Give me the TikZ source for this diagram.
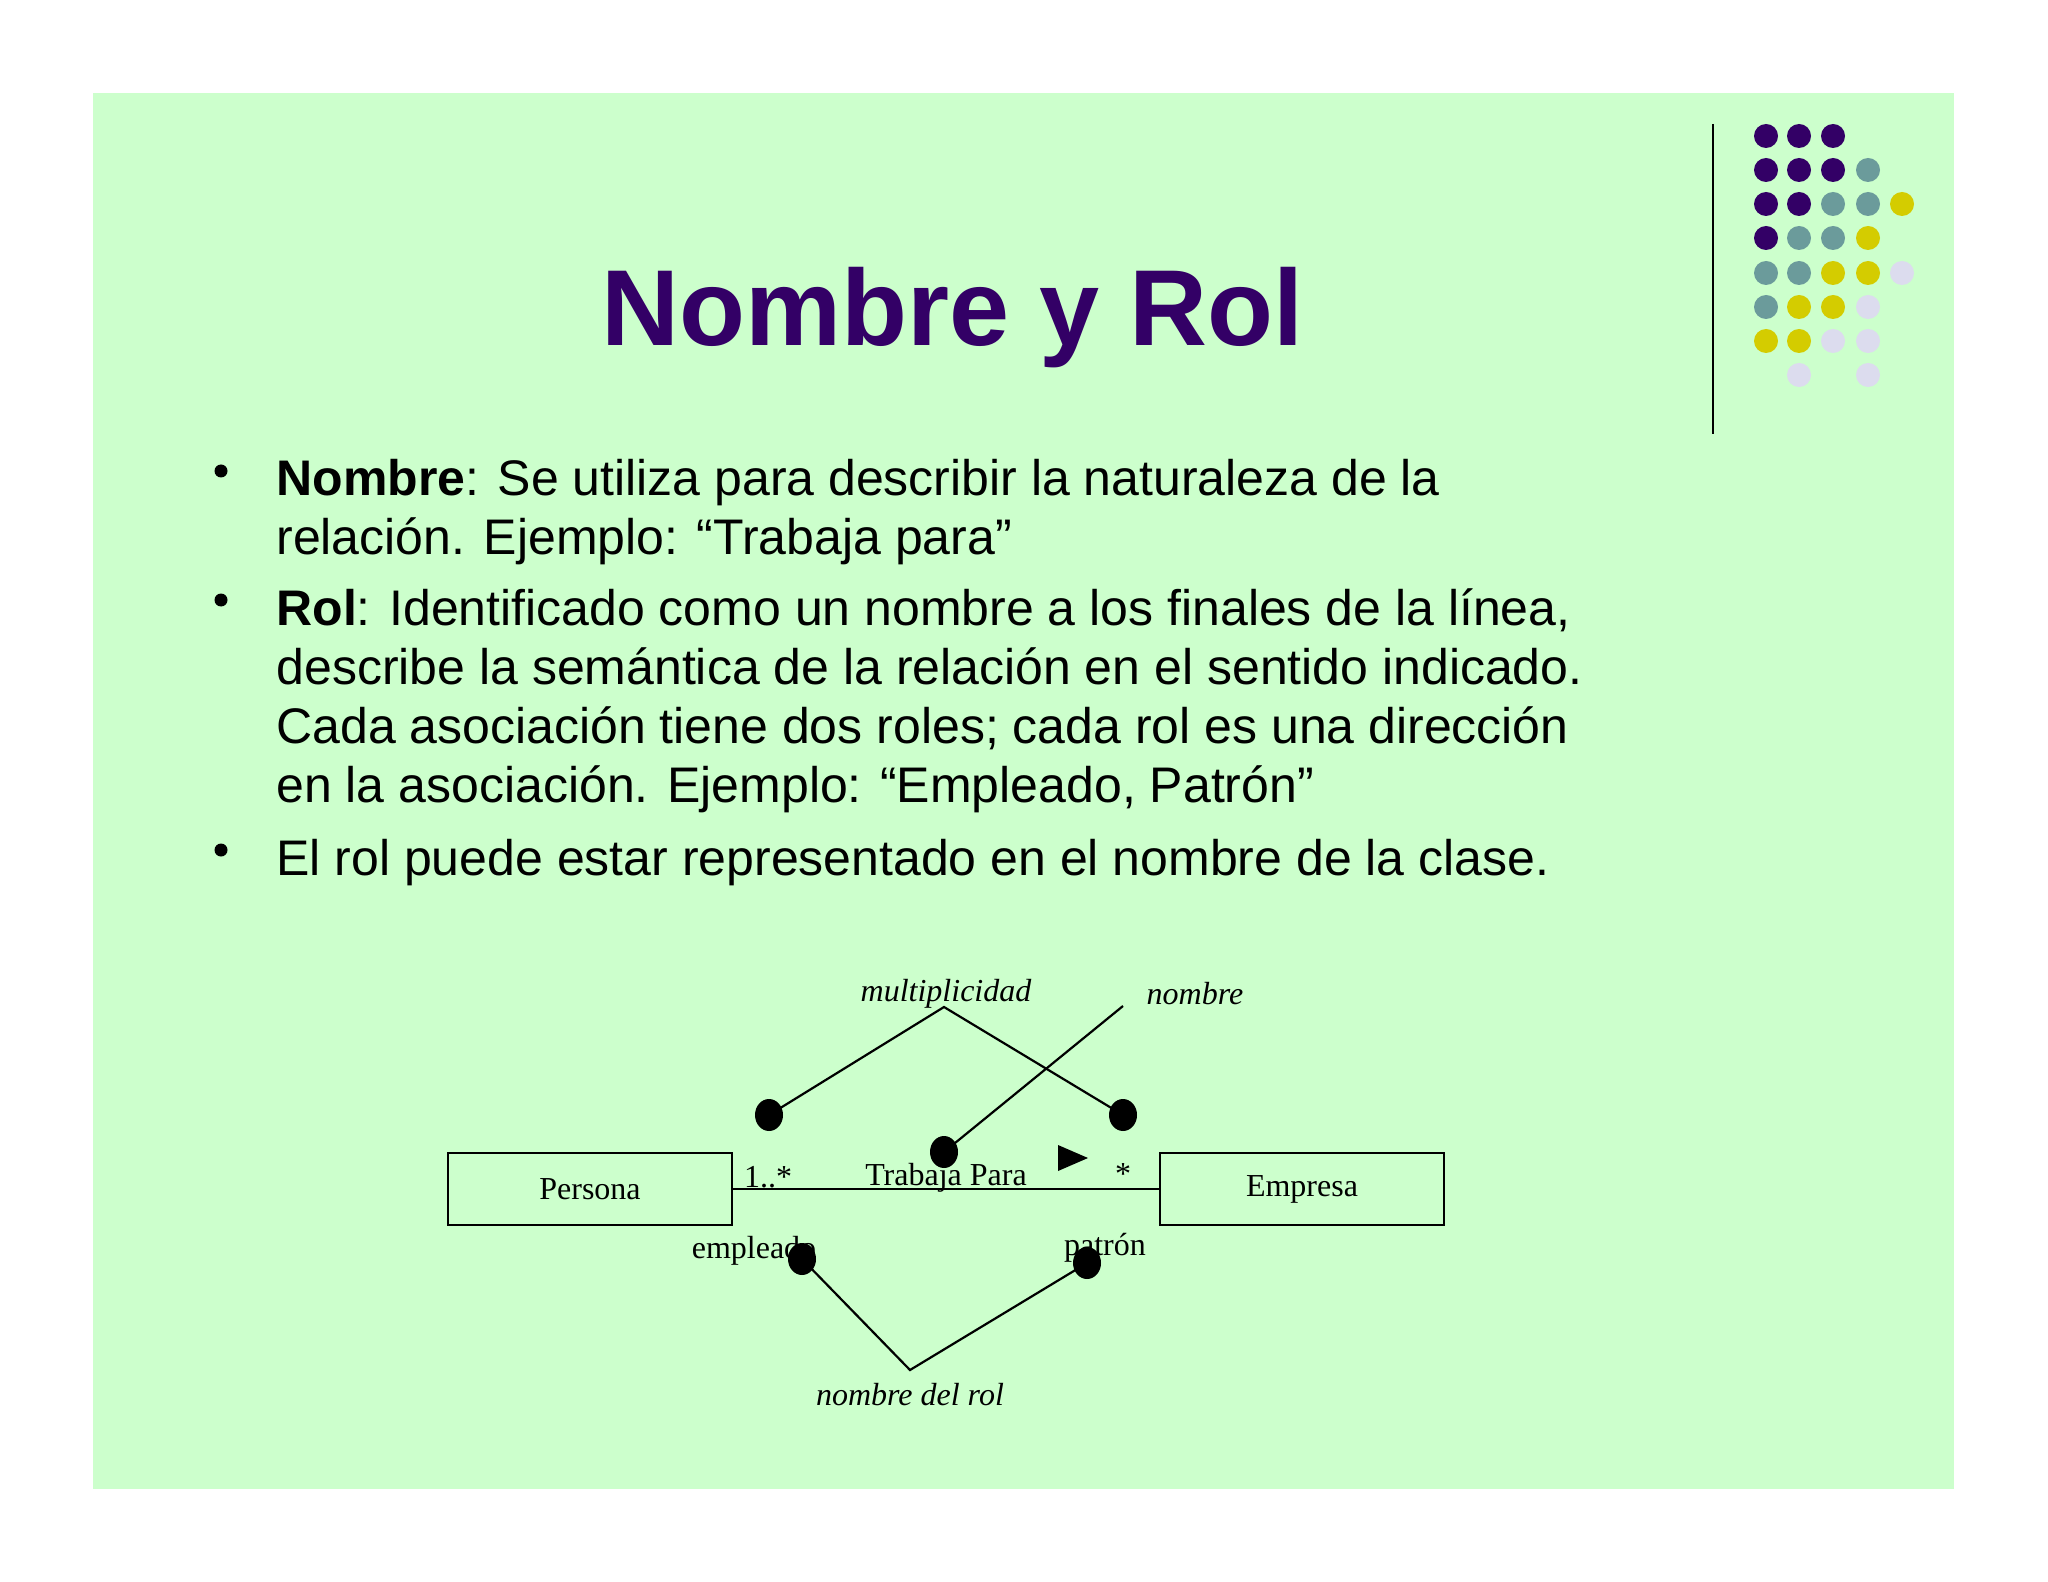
\documentclass[tikz,border=0pt]{standalone}
\usetikzlibrary{shapes.geometric}
\usepackage{fontspec}
\setmainfont{Liberation Sans}
\newfontfamily\serif{Liberation Serif}
\begin{document}
\begin{tikzpicture}[x=0.5pt,y=-0.5pt,
  bl/.style={anchor=base west,inner sep=0pt,font=\fontsize{25}{30}\selectfont},
  cls/.style={draw,line width=1.3pt,minimum width=142pt,minimum height=36pt,font=\serif\fontsize{16}{18}\selectfont},
  lab/.style={font=\serif\fontsize{16}{18}\selectfont,inner sep=0pt},
  ilab/.style={font=\serif\itshape\fontsize{16}{18}\selectfont,inner sep=0pt},
  pin/.style={fill=black,ellipse,minimum width=14pt,minimum height=16pt,inner sep=0pt},
  ln/.style={line width=1.1pt}]
\definecolor{bg}{HTML}{CCFFCC}
\definecolor{titlec}{HTML}{330066}
\definecolor{dotP}{HTML}{330066}
\definecolor{dotT}{HTML}{6B9B9B}
\definecolor{dotY}{HTML}{D4CC00}
\definecolor{dotL}{HTML}{DCDCEE}
\useasboundingbox (0,0) rectangle (2048,1582);
\fill[white] (0,0) rectangle (2048,1582);
\fill[bg] (93,93) rectangle (1954,1489);
\node[font=\bfseries\fontsize{54}{60}\selectfont,text=titlec] (title) at (953,318) {Nombre y Rol};
\draw[line width=1pt] (1713,124) -- (1713,434);
% dots
\foreach \c/\x/\y in {P/1766/136,P/1799/136,P/1833/136,
 P/1766/170,P/1799/170,P/1833/170,T/1868/170,
 P/1766/204,P/1799/204,T/1833/204,T/1868/204,Y/1902/204,
 P/1766/238,T/1799/238,T/1833/238,Y/1868/238,
 T/1766/273,T/1799/273,Y/1833/273,Y/1868/273,L/1902/273,
 T/1766/307,Y/1799/307,Y/1833/307,L/1868/307,
 Y/1766/341,Y/1799/341,L/1833/341,L/1868/341,
 L/1799/375,L/1868/375}
 \fill[dot\c] (\x,\y) circle (12);
% bullets
\foreach \y in {482,611,861} \fill (221,\y-11) circle (6.5);
\node[bl] (b1) at (276,496) {\textbf{Nombre}: Se utiliza para describir la naturaleza de la};
\node[bl] (b1b) at (276,554) {relación. Ejemplo: “Trabaja para”};
\node[bl] (b2) at (276,625) {\textbf{Rol}: Identificado como un nombre a los finales de la línea,};
\node[bl] (b2b) at (276,684) {describe la semántica de la relación en el sentido indicado.};
\node[bl] (b2c) at (276,743) {Cada asociación tiene dos roles; cada rol es una dirección};
\node[bl] (b2d) at (276,802) {en la asociación. Ejemplo: “Empleado, Patrón”};
\node[bl] (b3) at (276,875) {El rol puede estar representado en el nombre de la clase.};
% diagram
\node[cls] (per) at (590,1189) {Persona};
\node[cls] (emp) at (1302,1189) {Empresa};
\draw[ln] (per.east) -- (emp.west);
\node[lab] (m1) at (768,1177) {1..*};
\node[lab] (tp) at (946,1178) {Trabaja Para};
\node[lab] (m2) at (1123,1174) {*};
\fill (1058,1145) -- (1088,1158) -- (1058,1171) -- cycle;
\node[ilab] (mul) at (946,994) {multiplicidad};
\node[ilab] (nom) at (1195,994) {nombre};
\node[lab] (em) at (754,1251) {empleado};
\node[lab] (pa) at (1105,1248) {patrón};
\node[ilab] (ndr) at (910,1395) {nombre del rol};
\coordinate (ma) at (944,1007);
\coordinate (na) at (1123,1006);
\coordinate (ra) at (910,1370);
\node[pin] (d1) at (769,1115) {};
\node[pin] (d2) at (1123,1115) {};
\node[pin] (d3) at (944,1152) {};
\node[pin] (d4) at (802,1259) {};
\node[pin] (d5) at (1087,1263) {};
\draw[ln] (d1.center) -- (ma) -- (d2.center);
\draw[ln] (na) -- (d3.center);
\draw[ln] (d4.center) -- (ra) -- (d5.center);
\end{tikzpicture}
\end{document}
